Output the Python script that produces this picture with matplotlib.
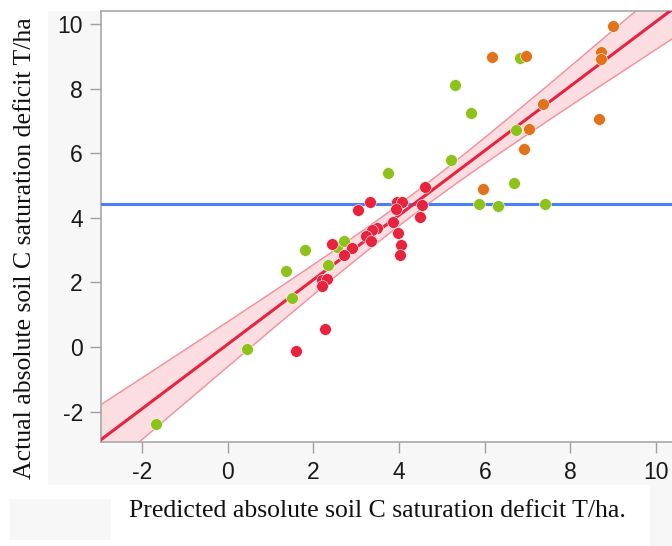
import numpy as np
import matplotlib
matplotlib.use("Agg")
import matplotlib.pyplot as plt
from matplotlib.patches import Rectangle

plt.rcParams["axes.unicode_minus"] = False

# predicted (x) vs actual (y) soil C saturation deficit, T/ha
green_x = [-1.67, 0.44, 1.49, 1.37, 1.81, 2.33, 2.56, 2.72, 3.74, 5.31,
           5.67, 5.21, 6.72, 6.83, 6.67, 5.86, 6.30, 7.40]
green_y = [-2.38, -0.06, 1.52, 2.34, 3.00, 2.54, 3.10, 3.28, 5.40, 8.10,
           7.24, 5.78, 6.71, 8.94, 5.07, 4.42, 4.36, 4.42]

orange_x = [6.17, 6.97, 9.00, 8.72, 8.72, 7.37, 8.67, 7.02, 6.91, 5.95]
orange_y = [8.97, 9.00, 9.93, 9.14, 8.90, 7.52, 7.05, 6.74, 6.12, 4.88]

red_x = [4.60, 3.95, 4.07, 3.93, 3.31, 3.03, 4.54, 4.49, 3.85, 3.98,
         4.05, 4.02, 3.48, 3.37, 3.22, 3.35, 2.91, 2.72, 2.43, 2.20,
         2.32, 2.20, 2.28, 1.60]
red_y = [4.95, 4.48, 4.50, 4.28, 4.50, 4.24, 4.40, 4.03, 3.88, 3.52,
         3.16, 2.85, 3.68, 3.62, 3.45, 3.29, 3.06, 2.85, 3.18, 2.07,
         2.10, 1.88, 0.56, -0.12]

mean_actual = 4.43
x_ticks = [-2, 0, 2, 4, 6, 8, 10]
y_ticks = [-2, 0, 2, 4, 6, 8, 10]

GREEN = "#8cc21a"
ORANGE = "#e3731b"
RED = "#e8233d"
BLUE = "#4d7ef3"
PANEL = "#f7f7f7"

W, H = 672, 546
fig = plt.figure(figsize=(W / 100, H / 100), dpi=100, facecolor="white")


def _px_rect(x0, y0, x1, y1, color):
    # rectangle in pixel coords, y measured from the top
    fig.patches.append(Rectangle((x0 / W, 1 - y1 / H), (x1 - x0) / W,
                                 (y1 - y0) / H, transform=fig.transFigure,
                                 facecolor=color, edgecolor="none",
                                 zorder=-10))


_px_rect(48, 11, 672, 485, PANEL)
_px_rect(650, 485, 672, 546, PANEL)
_px_rect(10, 499, 111, 540, PANEL)

ax = fig.add_axes([101 / W, 1 - 442 / H, (W - 101) / W, (442 - 11) / H])
ax.set_zorder(1)
ax.set_facecolor("white")
xmin, xmax = -2.96, 10.37
ymin, ymax = -2.94, 10.40

# least-squares fit with 95% confidence band of the fit
all_x = np.array(green_x + orange_x + red_x)
all_y = np.array(green_y + orange_y + red_y)
n = len(all_x)
slope, intercept = np.polyfit(all_x, all_y, 1)
resid = all_y - (slope * all_x + intercept)
s = np.sqrt(np.sum(resid ** 2) / (n - 2))
xbar = all_x.mean()
sxx = np.sum((all_x - xbar) ** 2)
xs = np.linspace(xmin - 1, xmax + 1, 200)
fit = slope * xs + intercept
hw = 2.0 * s * np.sqrt(1 / n + (xs - xbar) ** 2 / sxx)

ax.fill_between(xs, fit - hw, fit + hw, color="#fcdde1", zorder=1)
ax.plot(xs, fit - hw, color="#f3909c", lw=1.0, zorder=2)
ax.plot(xs, fit + hw, color="#f3909c", lw=1.0, zorder=2)
ax.axhline(mean_actual, color=BLUE, lw=2.2, zorder=3)
ax.plot(xs, fit, color=RED, lw=2.2, zorder=4)

for xv, yv, c in [(green_x, green_y, GREEN), (orange_x, orange_y, ORANGE),
                  (red_x, red_y, RED)]:
    ax.scatter(xv, yv, s=72, c=c, edgecolors="white", linewidths=0.4,
               zorder=5)

ax.set_xlim(xmin, xmax)
ax.set_ylim(ymin, ymax)
ax.set_xticks(x_ticks)
ax.set_yticks(y_ticks)
ax.spines["right"].set_visible(False)
for side in ("left", "bottom", "top"):
    ax.spines[side].set_color("#a8a8a8")
    ax.spines[side].set_linewidth(1.2)
ax.tick_params(direction="out", length=8, width=1.0, color="#a0a0a0",
               labelsize=16.5, pad=5)
ax.tick_params(axis="x", pad=6)
for lab in ax.get_xticklabels() + ax.get_yticklabels():
    lab.set_family("Liberation Sans")
    lab.set_color("#1a1a1a")

fig.text(377 / W, 1 - 511 / H,
         "Predicted absolute soil C saturation deficit T/ha.",
         family="Liberation Serif", fontsize=18.5, ha="center", va="center",
         color="#111111")
fig.text(25 / W, 1 - 248 / H, "Actual absolute soil C saturation deficit T/ha",
         family="Liberation Serif", fontsize=18.5, ha="center", va="center",
         rotation=90, color="#111111")

fig.savefig("out.png", dpi=100, facecolor=fig.get_facecolor())
